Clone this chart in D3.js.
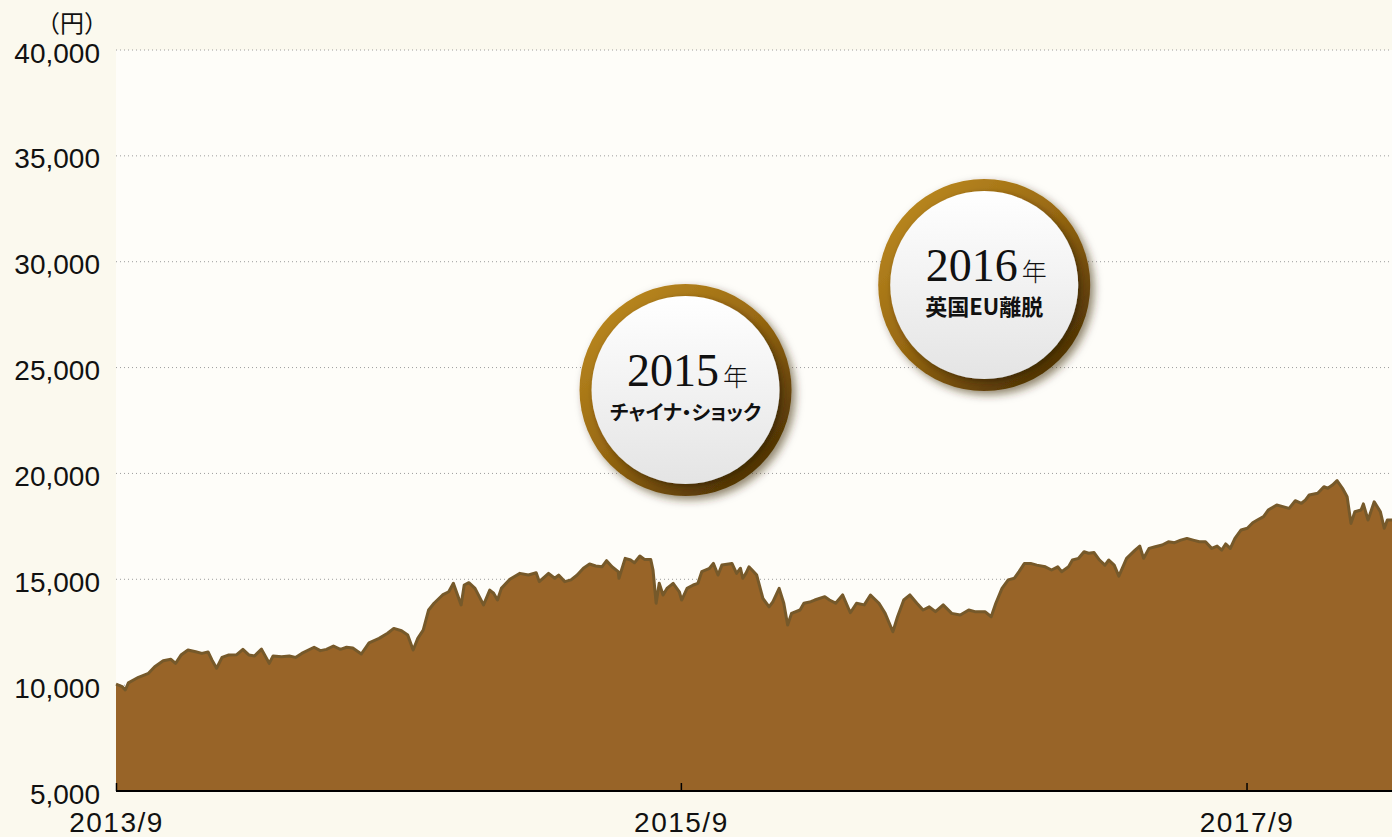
<!DOCTYPE html>
<html>
<head>
<meta charset="utf-8">
<script src="https://cdn.jsdelivr.net/npm/d3@7"></script>
<style>
  html, body { margin: 0; padding: 0; background: #fbf9ee; }
  svg { display: block; }
  .tick-label { font-family: "Liberation Sans", Arial, sans-serif; font-size: 28px; fill: #111; }
  .unit { font-family: "Noto Sans CJK JP", sans-serif; font-size: 24px; fill: #111; }
  .num { font-family: "Liberation Serif", "DejaVu Serif", serif; font-size: 46px; fill: #111; }
  .nen { font-family: "Noto Sans CJK JP", sans-serif; font-size: 25px; font-weight: 300; fill: #111; }
  .event { font-family: "Noto Sans CJK JP", sans-serif; font-weight: bold; fill: #111; font-feature-settings: "palt"; }
</style>
</head>
<body>
<svg id="chart" width="1392" height="837"></svg>
<script>
// 基準価額（円）
var dates = [
  "2013-09-01","2013-09-09","2013-09-13","2013-09-17","2013-09-30","2013-10-13","2013-10-21","2013-11-01",
  "2013-11-11","2013-11-17","2013-11-24","2013-12-03","2013-12-13","2013-12-21","2013-12-29","2014-01-03",
  "2014-01-09","2014-01-16","2014-01-24","2014-02-04","2014-02-12","2014-02-20","2014-02-27","2014-03-08",
  "2014-03-18","2014-03-23","2014-04-03","2014-04-13","2014-04-21","2014-04-29","2014-05-15","2014-05-23",
  "2014-05-31","2014-06-09","2014-06-18","2014-06-26","2014-07-04","2014-07-15","2014-07-25","2014-08-07",
  "2014-08-18","2014-08-26","2014-09-05","2014-09-13","2014-09-20","2014-09-26","2014-10-03","2014-10-10",
  "2014-10-17","2014-10-28","2014-11-05","2014-11-11","2014-11-21","2014-11-25","2014-12-01","2014-12-09",
  "2014-12-20","2014-12-28","2015-01-02","2015-01-07","2015-01-12","2015-01-23","2015-02-05","2015-02-16",
  "2015-02-26","2015-03-02","2015-03-14","2015-03-22","2015-03-27","2015-04-04","2015-04-12","2015-04-20",
  "2015-04-28","2015-05-06","2015-05-14","2015-05-22","2015-05-28","2015-06-04","2015-06-12","2015-06-13",
  "2015-06-21","2015-06-28","2015-07-03","2015-07-10","2015-07-16","2015-07-24","2015-07-27","2015-07-31",
  "2015-08-04","2015-08-09","2015-08-14","2015-08-22","2015-08-30","2015-09-02","2015-09-09","2015-09-17",
  "2015-09-23","2015-09-28","2015-10-08","2015-10-13","2015-10-19","2015-10-24","2015-11-06","2015-11-12",
  "2015-11-17","2015-11-20","2015-11-24","2015-11-28","2015-12-02","2015-12-08","2015-12-16","2015-12-24",
  "2015-12-29","2016-01-06","2016-01-12","2016-01-17","2016-01-22","2016-02-02","2016-02-07","2016-02-16",
  "2016-02-21","2016-03-05","2016-03-11","2016-03-19","2016-03-28","2016-04-07","2016-04-15","2016-04-25",
  "2016-05-03","2016-05-14","2016-05-22","2016-06-01","2016-06-07","2016-06-15","2016-06-23","2016-07-02",
  "2016-07-10","2016-07-18","2016-07-26","2016-08-05","2016-08-16","2016-08-27","2016-09-07","2016-09-15",
  "2016-09-28","2016-10-06","2016-10-12","2016-10-20","2016-10-28","2016-11-05","2016-11-11","2016-11-18",
  "2016-11-26","2016-12-04","2016-12-15","2016-12-23","2016-12-31","2017-01-05","2017-01-14","2017-01-19",
  "2017-01-27","2017-02-03","2017-02-09","2017-02-16","2017-02-23","2017-03-02","2017-03-07","2017-03-14",
  "2017-03-20","2017-03-30","2017-04-10","2017-04-16","2017-04-21","2017-04-28","2017-05-06","2017-05-15",
  "2017-05-23","2017-05-31","2017-06-08","2017-06-16","2017-06-24","2017-07-02","2017-07-10","2017-07-18",
  "2017-07-25","2017-07-31","2017-08-05","2017-08-11","2017-08-17","2017-08-25","2017-09-02","2017-09-09",
  "2017-09-15","2017-09-23","2017-09-29","2017-10-10","2017-10-18","2017-10-26","2017-11-03","2017-11-11",
  "2017-11-16","2017-11-21","2017-12-02","2017-12-10","2017-12-15","2017-12-21","2017-12-27","2018-01-03",
  "2018-01-09","2018-01-14","2018-01-19","2018-01-27","2018-01-30","2018-02-05","2018-02-13","2018-02-21",
  "2018-02-26","2018-03-02","2018-03-08"
];
var values = [
  10050, 9930, 9770,10110,10370,10560,10870,11150,
  11220,11030,11420,11660,11580,11500,11570,11190,
  10800,11310,11420,11440,11690,11420,11380,11700,
  11030,11380,11340,11380,11310,11500,11790,11630,
  11690,11850,11690,11790,11750,11470,12000,12210,
  12450,12680,12570,12370,11660,12210,12600,13550,
  13870,14260,14410,14810,13790,14730,14840,14570,
  13790,14490,14340,14020,14570,15000,15280,15200,
  15310,14890,15280,15050,15200,14890,14970,15200,
  15520,15720,15630,15590,15880,15590,15360,15050,
  15990,15910,15780,16100,15940,15940,15440,13870,
  14810,14260,14570,14810,14410,14020,14570,14730,
  14810,15360,15520,15750,15200,15670,15750,15280,
  15520,15050,15280,15590,15440,15200,14100,13700,
  13940,14570,13870,12840,13390,13550,13870,13940,
  14020,14180,14020,13870,14260,13420,13870,13790,
  14260,13870,13390,12520,13230,14020,14260,13870,
  13550,13700,13470,13790,13390,13310,13550,13470,
  13470,13230,13870,14570,14970,15050,15360,15750,
  15750,15670,15590,15440,15590,15360,15590,15910,
  15990,16300,16230,16260,15910,15670,15910,15670,
  15150,15990,16380,16570,15990,16460,16540,16620,
  16770,16730,16850,16930,16850,16770,16770,16460,
  16570,16380,16670,16460,16930,17330,17410,17670,
  17800,17960,18270,18510,18430,18350,18710,18590,
  18740,18980,19060,19370,19300,19450,19660,19300,
  18900,17640,18190,18270,18560,17800,18660,18190,
  17410,17800,17800
];
var yTicks = [5000, 10000, 15000, 20000, 25000, 30000, 35000, 40000];
var xTicks = ["2013-09-01", "2015-09-01", "2017-09-01"];
var eventYears = ["2015", "2016"];
var eventLabels = ["チャイナ・ショック", "英国EU離脱"];
var eventDates = ["2015-09-07", "2016-09-27"];
var eventValues = [23940, 28900];

var labelFontSize = [20, 22];

var parseDate = d3.timeParse("%Y-%m-%d");
var series = dates.map(function(d, i) { return { date: parseDate(d), value: values[i] }; });

var svg = d3.select("#chart");
var plotLeft = 116, plotRight = 1392, plotTop = 50, plotBottom = 791;

var x = d3.scaleTime()
  .domain([parseDate("2013-09-01"), parseDate("2018-03-08")])
  .range([plotLeft, plotRight]);
var y = d3.scaleLinear().domain([5000, 40000]).range([plotBottom, plotTop]);

var defs = svg.append("defs");

var ringGrad = defs.append("linearGradient").attr("id", "ring")
  .attr("x1", "15%").attr("y1", "10%").attr("x2", "85%").attr("y2", "90%");
ringGrad.append("stop").attr("offset", "0%").attr("stop-color", "#b8861f");
ringGrad.append("stop").attr("offset", "45%").attr("stop-color", "#9a6a12");
ringGrad.append("stop").attr("offset", "100%").attr("stop-color", "#4e3204");

var discGrad = defs.append("linearGradient").attr("id", "disc")
  .attr("x1", "0").attr("y1", "0").attr("x2", "0").attr("y2", "1");
discGrad.append("stop").attr("offset", "0%").attr("stop-color", "#ffffff");
discGrad.append("stop").attr("offset", "100%").attr("stop-color", "#e4e4e4");

var shadow = defs.append("filter").attr("id", "shadow")
  .attr("x", "-20%").attr("y", "-20%").attr("width", "150%").attr("height", "150%");
shadow.append("feDropShadow").attr("dx", 4).attr("dy", 4).attr("stdDeviation", 4)
  .attr("flood-color", "#3a2600").attr("flood-opacity", 0.55);

var discShadow = defs.append("filter").attr("id", "discShadow")
  .attr("x", "-20%").attr("y", "-20%").attr("width", "150%").attr("height", "150%");
discShadow.append("feDropShadow").attr("dx", 3).attr("dy", 3).attr("stdDeviation", 3)
  .attr("flood-color", "#2a1a00").attr("flood-opacity", 0.6);

// plot background
svg.append("rect")
  .attr("x", plotLeft).attr("y", plotTop)
  .attr("width", plotRight - plotLeft).attr("height", plotBottom - plotTop)
  .attr("fill", "#fefdf9");

// gridlines
svg.append("g").selectAll("line").data(yTicks.slice(1)).enter()
  .append("line")
  .attr("x1", plotLeft).attr("x2", plotRight)
  .attr("y1", function(d) { return y(d); })
  .attr("y2", function(d) { return y(d); })
  .attr("stroke", "#9c9c9c")
  .attr("stroke-width", 1)
  .attr("stroke-dasharray", "1,3");

var area = d3.area()
  .x(function(d) { return x(d.date); })
  .y0(plotBottom)
  .y1(function(d) { return y(d.value); });

var line = d3.line()
  .x(function(d) { return x(d.date); })
  .y(function(d) { return y(d.value); });

svg.append("path").datum(series)
  .attr("d", area)
  .attr("fill", "#986428");

svg.append("path").datum(series)
  .attr("d", line)
  .attr("fill", "none")
  .attr("stroke", "#76592a")
  .attr("stroke-width", 3)
  .attr("stroke-linejoin", "round");

// y axis labels
var yAxis = d3.axisLeft(y).tickValues(yTicks).tickSize(0).tickPadding(16)
  .tickFormat(d3.format(","));
var gy = svg.append("g").attr("transform", "translate(" + plotLeft + ",0)").call(yAxis);
gy.select(".domain").remove();
gy.selectAll("text").attr("class", "tick-label").attr("dy", "12px");
gy.attr("font-size", null).attr("font-family", null);

svg.append("text").attr("class", "unit")
  .attr("x", 108).attr("y", 32)
  .attr("text-anchor", "end")
  .text("（円）");

// x axis
var xAxis = d3.axisBottom(x)
  .tickValues(xTicks.map(parseDate))
  .tickSize(-8).tickSizeOuter(0).tickPadding(0)
  .tickFormat(d3.timeFormat("%Y/%-m"));
var gx = svg.append("g").attr("transform", "translate(0," + plotBottom + ")").call(xAxis);
gx.attr("font-size", null).attr("font-family", null);
gx.select(".domain").attr("stroke", "#000").attr("stroke-width", 2)
  .attr("d", "M" + plotLeft + ",0H" + plotRight);
gx.selectAll(".tick line").attr("stroke", "#000").attr("stroke-width", 1.5);
gx.selectAll("text").attr("class", "tick-label")
  .attr("y", 41).attr("dy", 0)
  .attr("letter-spacing", "1.5px");

// event badges
var badges = svg.append("g").selectAll("g.badge").data(eventYears).enter()
  .append("g").attr("class", "badge")
  .attr("transform", function(d, i) {
    return "translate(" + x(parseDate(eventDates[i])) + "," + y(eventValues[i]) + ")";
  });

badges.append("circle").attr("r", 106)
  .attr("fill", "url(#ring)")
  .attr("filter", "url(#shadow)");
badges.append("circle").attr("r", 94)
  .attr("fill", "url(#disc)")
  .attr("filter", "url(#discShadow)");

var yearText = badges.append("text").attr("y", -4).attr("x", 2).attr("text-anchor", "middle");
yearText.append("tspan").attr("class", "num").text(function(d) { return d; });
yearText.append("tspan").attr("class", "nen").attr("dx", 4).text("年");

badges.append("text").attr("class", "event")
  .attr("y", 30).attr("text-anchor", "middle")
  .attr("font-size", function(d, i) { return labelFontSize[i] + "px"; })
  .text(function(d, i) { return eventLabels[i]; });
</script>
</body>
</html>
